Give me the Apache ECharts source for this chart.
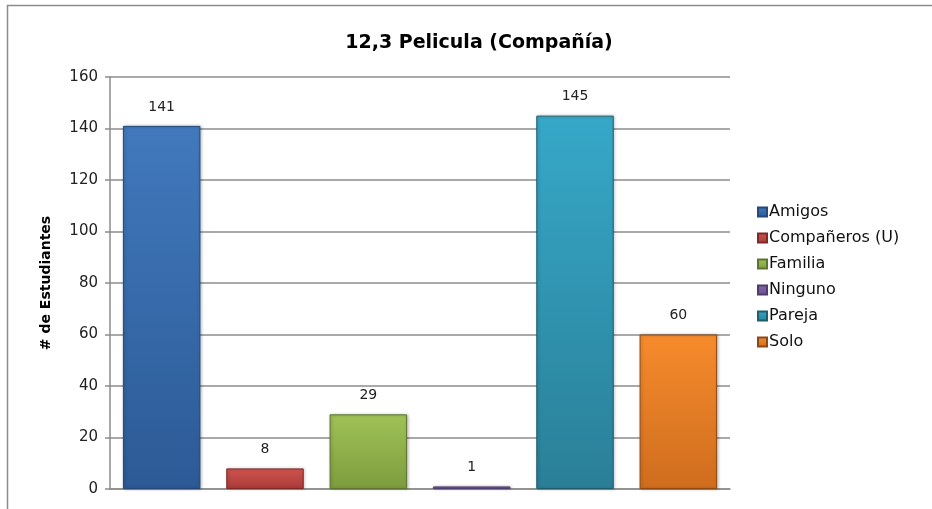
<!DOCTYPE html>
<html>
<head>
<meta charset="utf-8">
<script src="https://cdn.jsdelivr.net/npm/echarts@6/dist/echarts.min.js"></script>
<style>
  html, body { margin: 0; padding: 0; background: #fff; }
  #chart { width: 932px; height: 509px; }
</style>
</head>
<body>
<div id="chart"></div>
<script>
const categories = ["Amigos", "Compañeros (U)", "Familia", "Ninguno", "Pareja", "Solo"];
const values = [141, 8, 29, 1, 145, 60];
const yTicks = [0, 20, 40, 60, 80, 100, 120, 140, 160];

// light / dark / border per bar, office-2007 style
const palette = [
  ["#4179bd", "#2c5a95", "#24497a"],
  ["#d0534f", "#a93b38", "#7d2a28"],
  ["#9fc256", "#7d9c3e", "#5d7530"],
  ["#8566a8", "#6a5190", "#4f3c6c"],
  ["#36a8c8", "#2a7f97", "#1f5e70"],
  ["#f68b2c", "#cf6d1e", "#8f4a14"],
];

const font = "'DejaVu Sans', sans-serif";
const chart = echarts.init(document.getElementById("chart"), null, { renderer: "canvas" });

const series = categories.map((name, i) => ({
  name,
  type: "bar",
  barWidth: "75%",
  barGap: "-100%",
  data: values.map((v, j) => (j === i ? v : "-")),
  itemStyle: {
    color: new echarts.graphic.LinearGradient(0, 0, 0, 1, [
      { offset: 0, color: palette[i][0] },
      { offset: 1, color: palette[i][1] },
    ]),
    borderColor: palette[i][2],
    borderWidth: 1,
    shadowColor: "rgba(0,0,0,0.25)",
    shadowBlur: 3,
    shadowOffsetX: 1,
  },
  label: {
    show: true,
    position: "top",
    distance: 12,
    color: "#222",
    fontSize: 14,
    fontFamily: font,
  },
  emphasis: { disabled: true },
}));

chart.setOption({
  animation: false,
  backgroundColor: "#fff",
  title: {
    text: "12,3 Pelicula (Compañía)",
    left: 474,
    top: 29,
    textAlign: "center",
    textStyle: { fontSize: 19, fontWeight: "bold", color: "#000", fontFamily: font },
  },
  graphic: [
    {
      type: "polyline",
      shape: { points: [[7.5, 520], [7.5, 5.5], [940, 5.5]] },
      style: { stroke: "#8c8c8c", lineWidth: 1.5, fill: null },
      silent: true,
    },
  ],
  legend: {
    orient: "vertical",
    left: 757,
    top: 204,
    padding: 0,
    itemWidth: 9,
    itemHeight: 9,
    itemGap: 10,
    icon: "rect",
    data: categories,
    textStyle: { fontSize: 16, lineHeight: 16, color: "#111", fontFamily: font, padding: [0, 0, 0, -3] },
  },
  grid: { left: 110, right: 202, top: 77, bottom: 20, containLabel: false },
  xAxis: {
    type: "category",
    data: categories,
    axisLine: { lineStyle: { color: "#8c8c8c", width: 1.5 } },
    axisTick: { show: false },
    axisLabel: { show: false },
  },
  yAxis: {
    type: "value",
    min: yTicks[0],
    max: yTicks[yTicks.length - 1],
    interval: 20,
    name: "# de Estudiantes",
    nameLocation: "middle",
    nameGap: 57,
    nameTextStyle: { fontSize: 14, fontWeight: "bold", color: "#000", fontFamily: font },
    axisLine: { show: true, lineStyle: { color: "#8c8c8c", width: 1.5 } },
    axisTick: { show: true, length: 5, lineStyle: { color: "#8c8c8c", width: 1.5 } },
    axisLabel: { color: "#222", fontSize: 15, margin: 12, fontFamily: font },
    splitLine: { lineStyle: { color: "#8c8c8c", width: 1.5 } },
  },
  series,
});
</script>
</body>
</html>
